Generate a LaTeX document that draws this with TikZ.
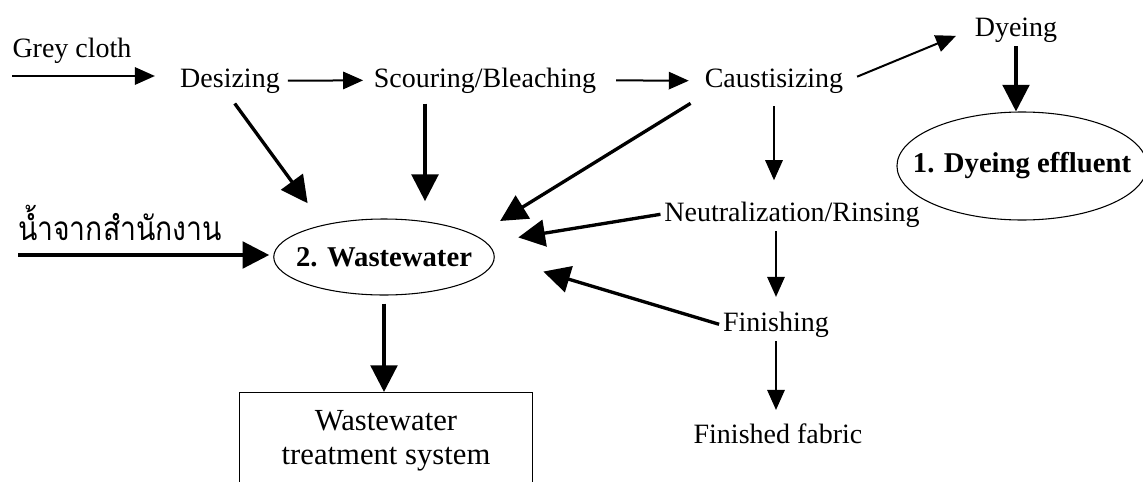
\documentclass[tikz,border=0pt]{standalone}
\usepackage{fontspec}
\setmainfont{Liberation Serif}
\newfontfamily\thaifont[Script=Thai,FakeStretch=0.85]{Loma}
\usetikzlibrary{arrows.meta,shapes.geometric}

\begin{document}
\begin{tikzpicture}[x=0.75pt, y=-0.75pt,
        stage/.style={anchor=base, inner sep=1pt, outer sep=2pt, font=\fontsize{21}{25}\selectfont},
        pool/.style={draw, ellipse, line width=0.8pt, inner ysep=0pt, font=\fontsize{21.5}{26}\selectfont\bfseries},
        thinflow/.style={line width=1.5pt, -{Triangle[length=15pt,width=13pt]}},
        thickflow/.style={line width=2.5pt, -{Triangle[length=20pt,width=20pt]}}]
    \clip (0,0) rectangle (1143,482);

    \node [stage] (grey) at (72,57) {Grey cloth};
    \node [stage] (desz) at (230,87) {Desizing};
    \node [stage] (scour) at (485,87) {Scouring/Bleaching};
    \node [stage] (caus) at (774,87) {Caustisizing};
    \node [stage] (dye) at (1016,36) {Dyeing};
    \node [stage] (neut) at (792,221) {Neutralization/Rinsing};
    \node [stage] (fin) at (776,331) {Finishing};
    \node [stage] (fab) at (778,443) {Finished fabric};
    \node [stage, font=\thaifont\fontsize{25}{29}\selectfont] (office) at (120,240) {น้ำจากสำนักงาน};

    \node [pool, inner xsep=-15.5pt, minimum height=81pt] (eff) at (1022,166) {1. Dyeing effluent};
    \node [pool, inner xsep=-7.5pt, minimum height=57pt] (ww) at (384,257) {2. Wastewater};
    \node [draw, line width=0.9pt, anchor=north, minimum width=220pt, inner ysep=13.5pt, align=center,
        font=\fontsize{23}{25.5}\selectfont] (wwts) at (386,392) {Wastewater\\treatment system};

    \coordinate (in1) at (12,76);
    \coordinate (in2) at (18,255);

    \draw [thinflow, shorten >=16pt] (in1) -- (in1 -| desz.west);
    \draw [thinflow, shorten <=3pt, shorten >=5pt] (desz.east) -- (scour.west);
    \draw [thinflow, shorten <=12pt, shorten >=9pt] (scour.east) -- (caus.west);
    \draw [thinflow, shorten <=8pt, shorten >=12pt] (caus.east) -- (dye.west);
    \draw [thickflow] (dye.south) -- (dye.south |- eff.north);

    \draw [thickflow, shorten <=6pt, shorten >=20pt] (desz.south) -- (ww.152);
    \draw [thickflow, shorten <=5pt, shorten >=13pt] ([xshift=-45pt]scour.south) -- ([xshift=-45pt]scour.south |- ww.north);
    \draw [thickflow, shorten <=9pt, shorten >=21pt] (caus.south west) -- (ww.13);
    \draw [thinflow, shorten <=7pt, shorten >=13pt] (caus.south) -- (caus.south |- neut.north);

    \draw [thickflow, shorten >=24pt] (neut.west) -- (ww.8);
    \draw [thinflow, shorten >=8pt] (fin.north |- neut.south) -- (fin.north);
    \draw [thickflow, shorten >=38pt] (fin.west) -- (ww.east);
    \draw [thinflow, shorten >=7pt] (fin.south) -- (fin.south |- fab.north);

    \draw [thickflow, shorten >=3pt] (in2) -- (in2 -| ww.west);
    \draw [thickflow, shorten <=6pt] (ww.south) -- (ww.south |- wwts.north);
\end{tikzpicture}
\end{document}
